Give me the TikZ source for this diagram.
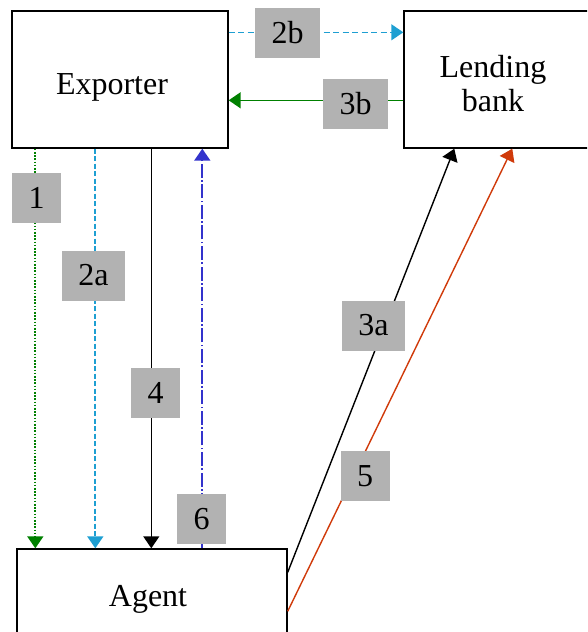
\documentclass[tikz,border=0pt]{standalone}
\usepackage{fontspec}
\setmainfont{Liberation Serif}
\usetikzlibrary{arrows.meta}
\definecolor{flowgreen}{HTML}{008000}
\definecolor{flowcyan}{HTML}{1E9FD2}
\definecolor{flowblue}{HTML}{3333CC}
\definecolor{flowred}{HTML}{D03A0A}
\definecolor{tag}{HTML}{B2B2B2}
\begin{document}
\begin{tikzpicture}[x=1pt,y=-1pt,
  party/.style={draw=black,line width=1.4pt,rectangle,inner sep=0pt},
  caption/.style={font=\fontsize{32}{34}\selectfont,align=center,inner sep=0pt},
  tagbox/.style={fill=tag,font=\fontsize{32}{34}\selectfont,inner xsep=16.5pt,inner ysep=0pt,minimum height=50pt},
  flow/.style={line width=1.4pt,-{Triangle[width=16pt,length=12pt]}}]
\useasboundingbox (0,0) rectangle (587,632);
\begin{scope}
\clip (0,0) rectangle (587,632);
% parties
\node[party,minimum width=216pt,minimum height=137pt] (exp) at (120,79.5) {};
\node[party,minimum width=186pt,minimum height=137pt] (bank) at (497,79.5) {};
\node[party,minimum width=270pt,minimum height=98pt] (agent) at (152,598) {};
\end{scope}
\node[caption] (expT) at (112,87) {Exporter};
\node[caption] (bankT) at (493,84) {Lending\\bank};
\node[caption] (agentT) at (148,599) {Agent};
% flows between exporter and agent
\draw[flow,flowgreen,line width=1.8pt,dash pattern=on 1.6pt off 1.6pt] ([xshift=24pt]exp.south west) -- ([xshift=19pt]agent.north west);
\draw[flow,flowcyan,line width=1.8pt,dash pattern=on 5pt off 2.5pt] ([xshift=84pt]exp.south west) -- ([xshift=79pt]agent.north west);
\draw[flow,black] ([xshift=140pt]exp.south west) -- ([xshift=135pt]agent.north west);
\draw[flow,flowblue,line width=1.8pt,dash pattern=on 14pt off 2.5pt on 1.6pt off 2.5pt] ([xshift=186pt]agent.north west) -- ([xshift=191pt]exp.south west);
% flows between exporter and bank
\draw[flow,flowcyan,dash pattern=on 6pt off 3.5pt] ([yshift=-22pt]exp.north east) -- ([yshift=-22pt]bank.north west);
\draw[flow,flowgreen,line width=1.6pt] ([yshift=-90pt]bank.north west) -- ([yshift=-90pt]exp.north east);
% flows between agent and bank
\draw[flow,black] ([yshift=-24pt]agent.north east) -- ([xshift=51pt]bank.south west);
\draw[flow,flowred] ([yshift=-63pt]agent.north east) -- ([xshift=109pt]bank.south west);
% step numbers
\node[tagbox] (t1) at (36.5,197.5) {1};
\node[tagbox] (t2a) at (93.5,275.5) {2a};
\node[tagbox] (t4) at (155.5,392.5) {4};
\node[tagbox] (t6) at (201.5,519) {6};
\node[tagbox] (t2b) at (287.5,32.5) {2b};
\node[tagbox] (t3b) at (355.5,103.5) {3b};
\node[tagbox] (t3a) at (373.5,325.5) {3a};
\node[tagbox] (t5) at (365,476) {5};
\end{tikzpicture}
\end{document}
